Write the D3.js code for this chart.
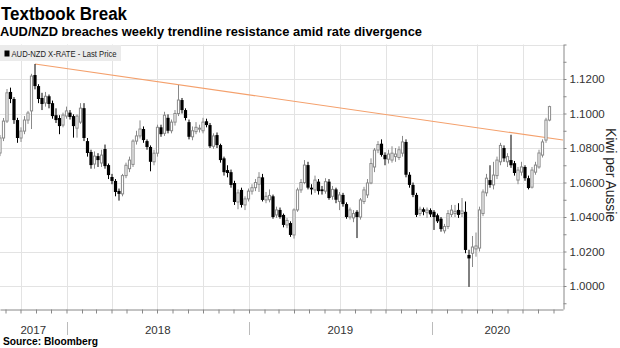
<!DOCTYPE html>
<html><head><meta charset="utf-8">
<script src="https://cdn.jsdelivr.net/npm/d3@7"></script>
<style>body{margin:0;background:#fff}svg{display:block}</style>
</head><body>
<svg id="chart" width="620" height="348"></svg>
<script>
// ---- data (weekly AUD/NZD candles) ----
const firstWeek = "2017-08-21";
const open = [
1.0771,1.0858,1.0956,1.1125,1.1084,1.0962,1.0858,1.0898,1.0962,1.1015,
1.1223,1.1159,1.1090,1.1061,1.1100,1.1060,1.0990,1.0974,1.0933,1.0985,
1.1005,1.0985,1.0915,1.0950,1.1031,1.0840,1.0777,1.0707,1.0753,1.0713,
1.0794,1.0701,1.0632,1.0609,1.0551,1.0534,1.0640,1.0680,1.0705,1.0840,
1.0870,1.0910,1.0840,1.0806,1.0720,1.0770,1.0920,1.0885,1.0975,1.0900,
1.0950,1.1000,1.1078,1.1020,1.0950,1.0865,1.0895,1.0910,1.0900,1.0955,
1.0933,1.0810,1.0875,1.0817,1.0740,1.0672,1.0660,1.0597,1.0487,1.0557,
1.0470,1.0505,1.0550,1.0570,1.0590,1.0630,1.0499,1.0500,1.0520,1.0412,
1.0441,1.0412,1.0354,1.0365,1.0296,1.0441,1.0557,1.0600,1.0701,1.0570,
1.0557,1.0605,1.0560,1.0550,1.0605,1.0520,1.0560,1.0490,1.0528,1.0475,
1.0400,1.0395,1.0430,1.0400,1.0490,1.0528,1.0597,1.0690,1.0788,1.0825,
1.0760,1.0735,1.0730,1.0750,1.0745,1.0770,1.0835,1.0645,1.0586,1.0528,
1.0420,1.0445,1.0425,1.0440,1.0430,1.0410,1.0390,1.0320,1.0345,1.0415,
1.0420,1.0441,1.0420,1.0430,1.0180,1.0190,1.0215,1.0220,1.0420,1.0540,
1.0614,1.0586,1.0640,1.0720,1.0800,1.0720,1.0730,1.0712,1.0614,1.0660,
1.0690,1.0625,1.0573,1.0660,1.0690,1.0759,1.0846,1.0962];
const high = [
1.0875,1.0974,1.1142,1.1150,1.1095,1.0975,1.0920,1.0985,1.1015,1.1230,
1.1287,1.1170,1.1120,1.1125,1.1110,1.1075,1.1030,1.0990,1.1005,1.1040,
1.1020,1.0995,1.0995,1.1060,1.1060,1.0858,1.0790,1.0780,1.0770,1.0790,
1.0820,1.0710,1.0650,1.0620,1.0565,1.0650,1.0715,1.0750,1.0850,1.0900,
1.0960,1.0925,1.0850,1.0815,1.0790,1.0935,1.0935,1.1010,1.0995,1.0965,
1.1020,1.1165,1.1090,1.1030,1.0965,1.0925,1.0950,1.0935,1.0975,1.0970,
1.0945,1.0885,1.0890,1.0825,1.0750,1.0700,1.0675,1.0610,1.0560,1.0570,
1.0520,1.0565,1.0590,1.0620,1.0660,1.0650,1.0545,1.0560,1.0530,1.0460,
1.0455,1.0420,1.0395,1.0375,1.0450,1.0570,1.0620,1.0730,1.0720,1.0590,
1.0640,1.0620,1.0580,1.0625,1.0620,1.0580,1.0570,1.0545,1.0540,1.0485,
1.0455,1.0440,1.0440,1.0510,1.0575,1.0620,1.0740,1.0800,1.0840,1.0850,
1.0775,1.0790,1.0810,1.0800,1.0810,1.0870,1.0850,1.0660,1.0600,1.0540,
1.0460,1.0455,1.0455,1.0450,1.0440,1.0420,1.0400,1.0360,1.0440,1.0470,
1.0470,1.0480,1.0510,1.0490,1.0210,1.0290,1.0310,1.0460,1.0560,1.0650,
1.0700,1.0720,1.0750,1.0830,1.0815,1.0770,1.0877,1.0725,1.0690,1.0720,
1.0700,1.0640,1.0690,1.0720,1.0790,1.0850,1.0975,1.1045];
const low = [
1.0753,1.0840,1.0945,1.1060,1.0940,1.0830,1.0835,1.0880,1.0940,1.0910,
1.1140,1.1060,1.1020,1.1040,1.1030,1.0970,1.0945,1.0880,1.0920,1.0970,
1.0965,1.0860,1.0860,1.0940,1.0840,1.0750,1.0680,1.0680,1.0690,1.0690,
1.0680,1.0620,1.0590,1.0520,1.0495,1.0520,1.0625,1.0660,1.0690,1.0820,
1.0855,1.0830,1.0790,1.0665,1.0700,1.0750,1.0865,1.0870,1.0885,1.0885,
1.0930,1.0985,1.1000,1.0960,1.0850,1.0845,1.0880,1.0890,1.0885,1.0920,
1.0800,1.0795,1.0800,1.0715,1.0640,1.0630,1.0570,1.0470,1.0445,1.0455,
1.0440,1.0490,1.0530,1.0550,1.0545,1.0490,1.0480,1.0485,1.0390,1.0395,
1.0390,1.0340,1.0335,1.0285,1.0275,1.0430,1.0540,1.0590,1.0560,1.0530,
1.0540,1.0530,1.0530,1.0535,1.0500,1.0500,1.0480,1.0440,1.0460,1.0390,
1.0385,1.0370,1.0278,1.0385,1.0475,1.0510,1.0590,1.0660,1.0770,1.0750,
1.0700,1.0710,1.0715,1.0720,1.0730,1.0750,1.0630,1.0570,1.0515,1.0400,
1.0405,1.0410,1.0395,1.0400,1.0325,1.0365,1.0315,1.0305,1.0330,1.0400,
1.0400,1.0395,1.0400,1.0190,0.9995,1.0110,1.0170,1.0200,1.0405,1.0520,
1.0570,1.0560,1.0620,1.0700,1.0720,1.0690,1.0685,1.0640,1.0590,1.0640,
1.0610,1.0560,1.0565,1.0645,1.0680,1.0745,1.0830,1.0955];
const close = [
1.0858,1.0956,1.1120,1.1084,1.0962,1.0858,1.0898,1.0962,1.1003,1.1217,
1.1159,1.1084,1.1055,1.1100,1.1055,1.0985,1.0962,1.0927,1.0991,1.1015,
1.0980,1.0927,1.0985,1.1031,1.0858,1.0771,1.0701,1.0753,1.0730,1.0759,
1.0695,1.0643,1.0609,1.0545,1.0534,1.0640,1.0700,1.0730,1.0840,1.0870,
1.0910,1.0846,1.0806,1.0720,1.0770,1.0920,1.0880,1.0990,1.0900,1.0950,
1.1000,1.1078,1.1020,1.0974,1.0865,1.0900,1.0920,1.0915,1.0950,1.0933,
1.0810,1.0870,1.0817,1.0730,1.0660,1.0655,1.0586,1.0487,1.0540,1.0470,
1.0505,1.0550,1.0570,1.0600,1.0630,1.0499,1.0520,1.0525,1.0400,1.0441,
1.0400,1.0354,1.0380,1.0296,1.0441,1.0557,1.0600,1.0701,1.0570,1.0560,
1.0614,1.0550,1.0550,1.0605,1.0510,1.0560,1.0500,1.0528,1.0475,1.0400,
1.0441,1.0420,1.0400,1.0499,1.0557,1.0597,1.0710,1.0788,1.0820,1.0760,
1.0735,1.0765,1.0770,1.0765,1.0790,1.0835,1.0645,1.0586,1.0528,1.0412,
1.0445,1.0430,1.0440,1.0415,1.0400,1.0375,1.0330,1.0345,1.0420,1.0440,
1.0433,1.0412,1.0435,1.0209,1.0160,1.0226,1.0232,1.0441,1.0545,1.0625,
1.0586,1.0643,1.0730,1.0815,1.0740,1.0750,1.0700,1.0655,1.0672,1.0690,
1.0625,1.0568,1.0672,1.0701,1.0771,1.0835,1.0962,1.1040];

const trendDates = ["2017-10-30", "2020-09-20"];
const trendValues = [1.1287, 1.0846];

const xDomain = ["2017-08-21", "2020-09-20"];
const yDomain = [0.98667, 1.14];
const yMinorTicks = [0.99,1.00,1.01,1.02,1.03,1.04,1.05,1.06,1.07,1.08,1.09,1.10,1.11,1.12,1.13,1.14];
const yLabelTicks = [1.00,1.02,1.04,1.06,1.08,1.10,1.12];
const yGridTicks = [1.00,1.02,1.04,1.06,1.08,1.10,1.12,1.14];
const years = ["2017","2018","2019","2020"];

const titleText = "Textbook Break";
const subtitleText = "AUD/NZD breaches weekly trendline resistance amid rate divergence";
const legendText = "AUD-NZD X-RATE - Last Price";
const yAxisTitle = "Kiwi per Aussie";
const sourceText = "Source: Bloomberg";

// ---- drawing ----
const parse = d3.timeParse("%Y-%m-%d");
const plot = {left: 0, right: 563, top: 44.5, bottom: 309};
const svg = d3.select("#chart");

const x = d3.scaleTime().domain(xDomain.map(parse)).range([plot.left, plot.right]);
const y = d3.scaleLinear().domain(yDomain).range([plot.bottom, plot.top]);

const start = parse(firstWeek);
const candles = close.map((c, i) => ({
  date: d3.timeWeek.offset(start, i), o: open[i], h: high[i], l: low[i], c: c
}));

const sans = "'Liberation Sans', Arial, sans-serif";

// titles
svg.append("text").attr("x", 1).attr("y", 19.5)
  .attr("font-family", sans).attr("font-weight", "bold").attr("font-size", 17.5)
  .attr("textLength", 126).attr("lengthAdjust", "spacingAndGlyphs")
  .attr("fill", "#000").text(titleText);
svg.append("text").attr("x", 0).attr("y", 35.5)
  .attr("font-family", sans).attr("font-weight", "bold").attr("font-size", 13.5)
  .attr("textLength", 422).attr("lengthAdjust", "spacingAndGlyphs")
  .attr("fill", "#000").text(subtitleText);

// grid
const grid = svg.append("g");
grid.selectAll("line.h").data(yGridTicks).join("line")
  .attr("x1", plot.left).attr("x2", plot.right)
  .attr("y1", d => Math.round(y(d)) + 0.5).attr("y2", d => Math.round(y(d)) + 0.5)
  .attr("stroke", "#e3e3e3").attr("stroke-width", 1);
const quarters = d3.timeMonth.every(3).range(x.domain()[0], x.domain()[1]);
grid.selectAll("line.v").data(quarters).join("line")
  .attr("x1", d => Math.round(x(d)) + 0.5).attr("x2", d => Math.round(x(d)) + 0.5)
  .attr("y1", plot.top).attr("y2", plot.bottom)
  .attr("stroke", "#e3e3e3").attr("stroke-width", 1);

// legend
const leg = svg.append("g");
leg.append("rect").attr("x", 0).attr("y", 45).attr("width", 121).attr("height", 16).attr("fill", "#ebebeb");
leg.append("rect").attr("x", 4.5).attr("y", 50.5).attr("width", 5).attr("height", 6).attr("fill", "#000");
leg.append("text").attr("x", 11.5).attr("y", 56.8)
  .attr("font-family", sans)
  .attr("font-size", 9.5).attr("fill", "#222")
  .attr("textLength", 105).attr("lengthAdjust", "spacingAndGlyphs")
  .text(legendText);

// trendline
const tl = d3.line().x(d => x(d[0])).y(d => y(d[1]));
svg.append("path")
  .attr("d", tl(trendDates.map((d, i) => [parse(d), trendValues[i]])))
  .attr("fill", "none").attr("stroke", "#f4a06c").attr("stroke-width", 1.1);

// candles
const cg = svg.append("g");
const bw = 3.2;
const cs = cg.selectAll("g").data(candles).join("g");
cs.append("line")
  .attr("x1", d => x(d.date)).attr("x2", d => x(d.date))
  .attr("y1", d => y(d.h)).attr("y2", d => y(d.l))
  .attr("stroke", d => d.c >= d.o ? "#8a8a8a" : "#000").attr("stroke-width", 1);
cs.append("rect")
  .attr("x", d => x(d.date) - (d.c >= d.o ? bw/2 - 0.5 : bw/2))
  .attr("width", d => d.c >= d.o ? bw - 1 : bw)
  .attr("y", d => Math.min(y(d.o), y(d.c)))
  .attr("height", d => Math.max(1, Math.abs(y(d.o) - y(d.c))))
  .attr("fill", d => d.c >= d.o ? "#fff" : "#000")
  .attr("stroke", d => d.c >= d.o ? "#8a8a8a" : "none")
  .attr("stroke-width", 1);

// right y axis
const yAxis = d3.axisRight(y).tickValues(yMinorTicks).tickSize(3).tickSizeOuter(0).tickPadding(3)
  .tickFormat(d => yLabelTicks.some(v => Math.abs(v - d) < 1e-9) ? d3.format(".4f")(d) : "");
const ya = svg.append("g").attr("transform", `translate(${plot.right + 0.5},0)`).call(yAxis);
ya.select(".domain").attr("stroke", "#888");
ya.selectAll(".tick line").attr("stroke", "#888");
ya.selectAll(".tick text").attr("font-family", sans).attr("font-size", 11.5).attr("fill", "#333");

// bottom x axis
const xAxis = d3.axisBottom(x).ticks(d3.timeMonth.every(1)).tickSize(4).tickSizeOuter(0).tickFormat("");
const xa = svg.append("g").attr("transform", `translate(0,${plot.bottom + 0.5})`).call(xAxis);
xa.select(".domain").attr("stroke", "#888");
xa.selectAll(".tick line").attr("stroke", "#888");

// year separators and labels
const yearStarts = d3.timeYear.range(x.domain()[0], x.domain()[1]);
svg.selectAll("line.ysep").data(yearStarts).join("line")
  .attr("x1", d => Math.round(x(d)) + 0.5).attr("x2", d => Math.round(x(d)) + 0.5)
  .attr("y1", 322).attr("y2", 335).attr("stroke", "#bbb").attr("stroke-width", 1);
svg.selectAll("text.year").data(years).join("text")
  .attr("x", d => {
    const a = d3.max([parse(d + "-01-01"), x.domain()[0]]);
    const b = d3.min([parse((+d + 1) + "-01-01"), x.domain()[1]]);
    return (x(a) + x(b)) / 2;
  })
  .attr("y", 333.5).attr("text-anchor", "middle")
  .attr("font-family", sans).attr("font-size", 11.5).attr("fill", "#333").text(d => d);

// y axis title
svg.append("text").attr("transform", "translate(606,175) rotate(90)")
  .attr("text-anchor", "middle").attr("font-family", sans).attr("font-size", 14).attr("fill", "#222")
  .attr("textLength", 94).attr("lengthAdjust", "spacingAndGlyphs")
  .text(yAxisTitle);

// source
svg.append("text").attr("x", 3).attr("y", 345)
  .attr("font-family", sans).attr("font-weight", "bold").attr("font-size", 10).attr("fill", "#000")
  .attr("textLength", 95).attr("lengthAdjust", "spacingAndGlyphs")
  .text(sourceText);
</script>
</body></html>
